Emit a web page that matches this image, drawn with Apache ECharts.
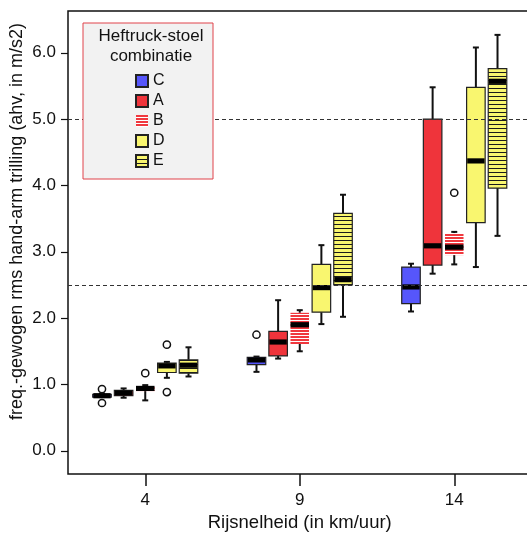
<!DOCTYPE html>
<html>
<head>
<meta charset="utf-8">
<script src="https://cdn.jsdelivr.net/npm/echarts@6/dist/echarts.min.js"></script>
<style>
  html, body { margin: 0; padding: 0; background: #ffffff; }
  #chart { width: 527px; height: 534px; }
</style>
</head>
<body>
<div id="chart"></div>
<script>
// Travel speeds (km/h) on the x axis
const speeds = [4, 9, 14];
const groupNames = ['C', 'A', 'B', 'D', 'E'];
const yTicks = [0, 1, 2, 3, 4, 5, 6];
const limitLines = [5.0, 2.5];

// Box statistics [min, Q1, median, Q3, max] for speeds 4, 9, 14
const statsC = [[0.81, 0.81, 0.83, 0.85, 0.86], [1.19, 1.30, 1.37, 1.41, 1.42], [2.10, 2.22, 2.47, 2.77, 2.82]];
const statsA = [[0.80, 0.83, 0.87, 0.91, 0.94], [1.39, 1.43, 1.64, 1.80, 2.27], [2.67, 2.80, 3.09, 5.00, 5.48]];
const statsB = [[0.76, 0.90, 0.94, 0.97, 0.99], [1.50, 1.61, 1.90, 2.08, 2.12], [2.81, 2.95, 3.07, 3.28, 3.30]];
const statsD = [[1.10, 1.18, 1.28, 1.32, 1.34], [1.91, 2.09, 2.46, 2.81, 3.10], [2.77, 3.44, 4.37, 5.48, 6.08]];
const statsE = [[1.12, 1.17, 1.29, 1.37, 1.56], [2.02, 2.50, 2.58, 3.58, 3.86], [3.24, 3.96, 5.57, 5.76, 6.27]];

// Outlying measurements [speed, value]
const outliersC = [[4, 0.93], [4, 0.72], [9, 1.75]];
const outliersA = [];
const outliersB = [[4, 1.17], [14, 3.89]];
const outliersD = [[4, 1.60], [4, 0.885]];
const outliersE = [];

const FONT = '"Liberation Sans", Arial, sans-serif';
const GROUP_STEP = 0.7;   // spacing between boxes within a speed (x units)
const BOX_W = 0.6;        // box width (x units)

function stripes(rows) {
  const c = document.createElement('canvas');
  c.width = 4; c.height = rows.length;
  const g = c.getContext('2d');
  rows.forEach((col, i) => { g.fillStyle = col; g.fillRect(0, i, 4, 1); });
  return { image: c, repeat: 'repeat' };
}

const fills = [
  '#5656fb',
  '#ef343b',
  stripes(['#f0383e', '#f0383e', '#ffffff']),
  '#f9f66f',
  stripes(['#1a1a1a', '#f9f66f', '#f9f66f', '#f9f66f'])
];
const bordered = [true, true, false, true, true];
const allStats = [statsC, statsA, statsB, statsD, statsE];
const allOutliers = [outliersC, outliersA, outliersB, outliersD, outliersE];

function boxSeries(idx) {
  const fill = fills[idx];
  const hasBorder = bordered[idx];
  return {
    type: 'custom',
    name: groupNames[idx],
    z: 2,
    data: speeds.map((s, i) => [s].concat(allStats[idx][i])),
    encode: { x: 0, y: [1, 2, 3, 4, 5] },
    itemStyle: {
      color: fill,
      borderColor: hasBorder ? '#222222' : 'rgba(0,0,0,0)',
      borderWidth: hasBorder ? 1.2 : 0
    },
    renderItem(params, api) {
      const xv = api.value(0) + (idx - 2) * GROUP_STEP;
      const pMin = api.coord([xv, api.value(1)]);
      const pQ1 = api.coord([xv, api.value(2)]);
      const pMed = api.coord([xv, api.value(3)]);
      const pQ3 = api.coord([xv, api.value(4)]);
      const pMax = api.coord([xv, api.value(5)]);
      const w = api.size([BOX_W, 0])[0];
      const cx = pMed[0];
      const cap = 3;
      const lineStyle = { stroke: '#111111', lineWidth: 2 };
      return {
        type: 'group',
        children: [
          { type: 'line', shape: { x1: cx, y1: pMax[1], x2: cx, y2: pQ3[1] }, style: lineStyle },
          { type: 'line', shape: { x1: cx, y1: pQ1[1], x2: cx, y2: pMin[1] }, style: lineStyle },
          { type: 'line', shape: { x1: cx - cap, y1: pMax[1], x2: cx + cap, y2: pMax[1] }, style: lineStyle },
          { type: 'line', shape: { x1: cx - cap, y1: pMin[1], x2: cx + cap, y2: pMin[1] }, style: lineStyle },
          {
            type: 'rect',
            shape: { x: cx - w / 2, y: pQ3[1], width: w, height: pQ1[1] - pQ3[1] },
            style: {
              fill: fill,
              stroke: hasBorder ? '#222222' : null,
              lineWidth: hasBorder ? 1.2 : 0
            }
          },
          {
            type: 'rect',
            shape: { x: cx - w / 2 + (hasBorder ? 0.6 : 0), y: pMed[1] - 2.6, width: w - (hasBorder ? 1.2 : 0), height: 5.2 },
            style: { fill: '#000000' }
          }
        ]
      };
    }
  };
}

function outlierSeries(idx) {
  return {
    type: 'custom',
    name: 'outliers-' + groupNames[idx],
    z: 3,
    data: allOutliers[idx],
    encode: { x: 0, y: 1 },
    renderItem(params, api) {
      const p = api.coord([api.value(0) + (idx - 2) * GROUP_STEP, api.value(1)]);
      return {
        type: 'circle',
        shape: { cx: p[0], cy: p[1], r: 3.6 },
        style: { fill: '#ffffff', stroke: '#111111', lineWidth: 1.5 }
      };
    }
  };
}

const series = [];
groupNames.forEach((n, i) => series.push(boxSeries(i)));
groupNames.forEach((n, i) => series.push(outlierSeries(i)));
series.push({
  type: 'line',
  name: 'limits',
  data: [],
  z: 1,
  markLine: {
    silent: true,
    symbol: 'none',
    label: { show: false },
    lineStyle: { color: '#333333', width: 1, type: [4, 3] },
    data: limitLines.map(v => ({ yAxis: v }))
  }
});

const chart = echarts.init(document.getElementById('chart'), null, { renderer: 'canvas' });
chart.setOption({
  animation: false,
  backgroundColor: '#ffffff',
  grid: {
    left: 68, top: 11, bottom: 60, right: -4.5,
    outerBoundsMode: 'none',
    containLabel: false,
    show: true, borderColor: '#111111', borderWidth: 1.5,
    backgroundColor: 'rgba(0,0,0,0)'
  },
  xAxis: {
    type: 'value',
    min: 1.5, max: 16.5,
    name: 'Rijsnelheid (in km/uur)',
    nameLocation: 'middle',
    nameGap: 33,
    nameTextStyle: { fontFamily: FONT, fontSize: 18.5, color: '#111111' },
    axisLine: { show: false, onZero: false },
    splitLine: { show: false },
    axisTick: { show: true, inside: false, length: 12, customValues: speeds, lineStyle: { color: '#111111', width: 1.5 } },
    axisLabel: { customValues: speeds, margin: 18, fontFamily: FONT, fontSize: 17, color: '#111111' }
  },
  yAxis: {
    type: 'value',
    min: -0.35, max: 6.63,
    name: 'freq.-gewogen rms hand-arm trilling (ahv, in m/s2)',
    nameLocation: 'middle',
    nameGap: 42,
    nameMoveOverlap: false,
    nameTextStyle: { fontFamily: FONT, fontSize: 18, color: '#111111', padding: [0, 0, 0, 42] },
    axisLine: { show: false, onZero: false },
    splitLine: { show: false },
    axisTick: { show: true, inside: false, length: 7, customValues: yTicks, lineStyle: { color: '#111111', width: 1.2 } },
    axisLabel: {
      customValues: yTicks, margin: 12, fontFamily: FONT, fontSize: 17, color: '#111111',
      formatter: v => v.toFixed(1)
    }
  },
  legend: {
    data: groupNames,
    orient: 'vertical',
    left: 130, top: 68,
    z: 20,
    icon: 'rect',
    itemWidth: 12, itemHeight: 12, itemGap: 4,
    selectedMode: false,
    textStyle: { fontFamily: FONT, fontSize: 16, color: '#111111' }
  },
  graphic: [
    {
      type: 'rect', z: 10,
      shape: { x: 83, y: 23, width: 130, height: 156 },
      style: { fill: '#f2f2f2', stroke: '#e0434b', lineWidth: 1 }
    },
    {
      type: 'text', z: 11,
      x: 151, y: 26,
      style: {
        text: 'Heftruck-stoel\ncombinatie',
        fontFamily: FONT, fontSize: 17, lineHeight: 20,
        fill: '#111111', align: 'center', verticalAlign: 'top'
      }
    }
  ],
  series: series
});
</script>
</body>
</html>
